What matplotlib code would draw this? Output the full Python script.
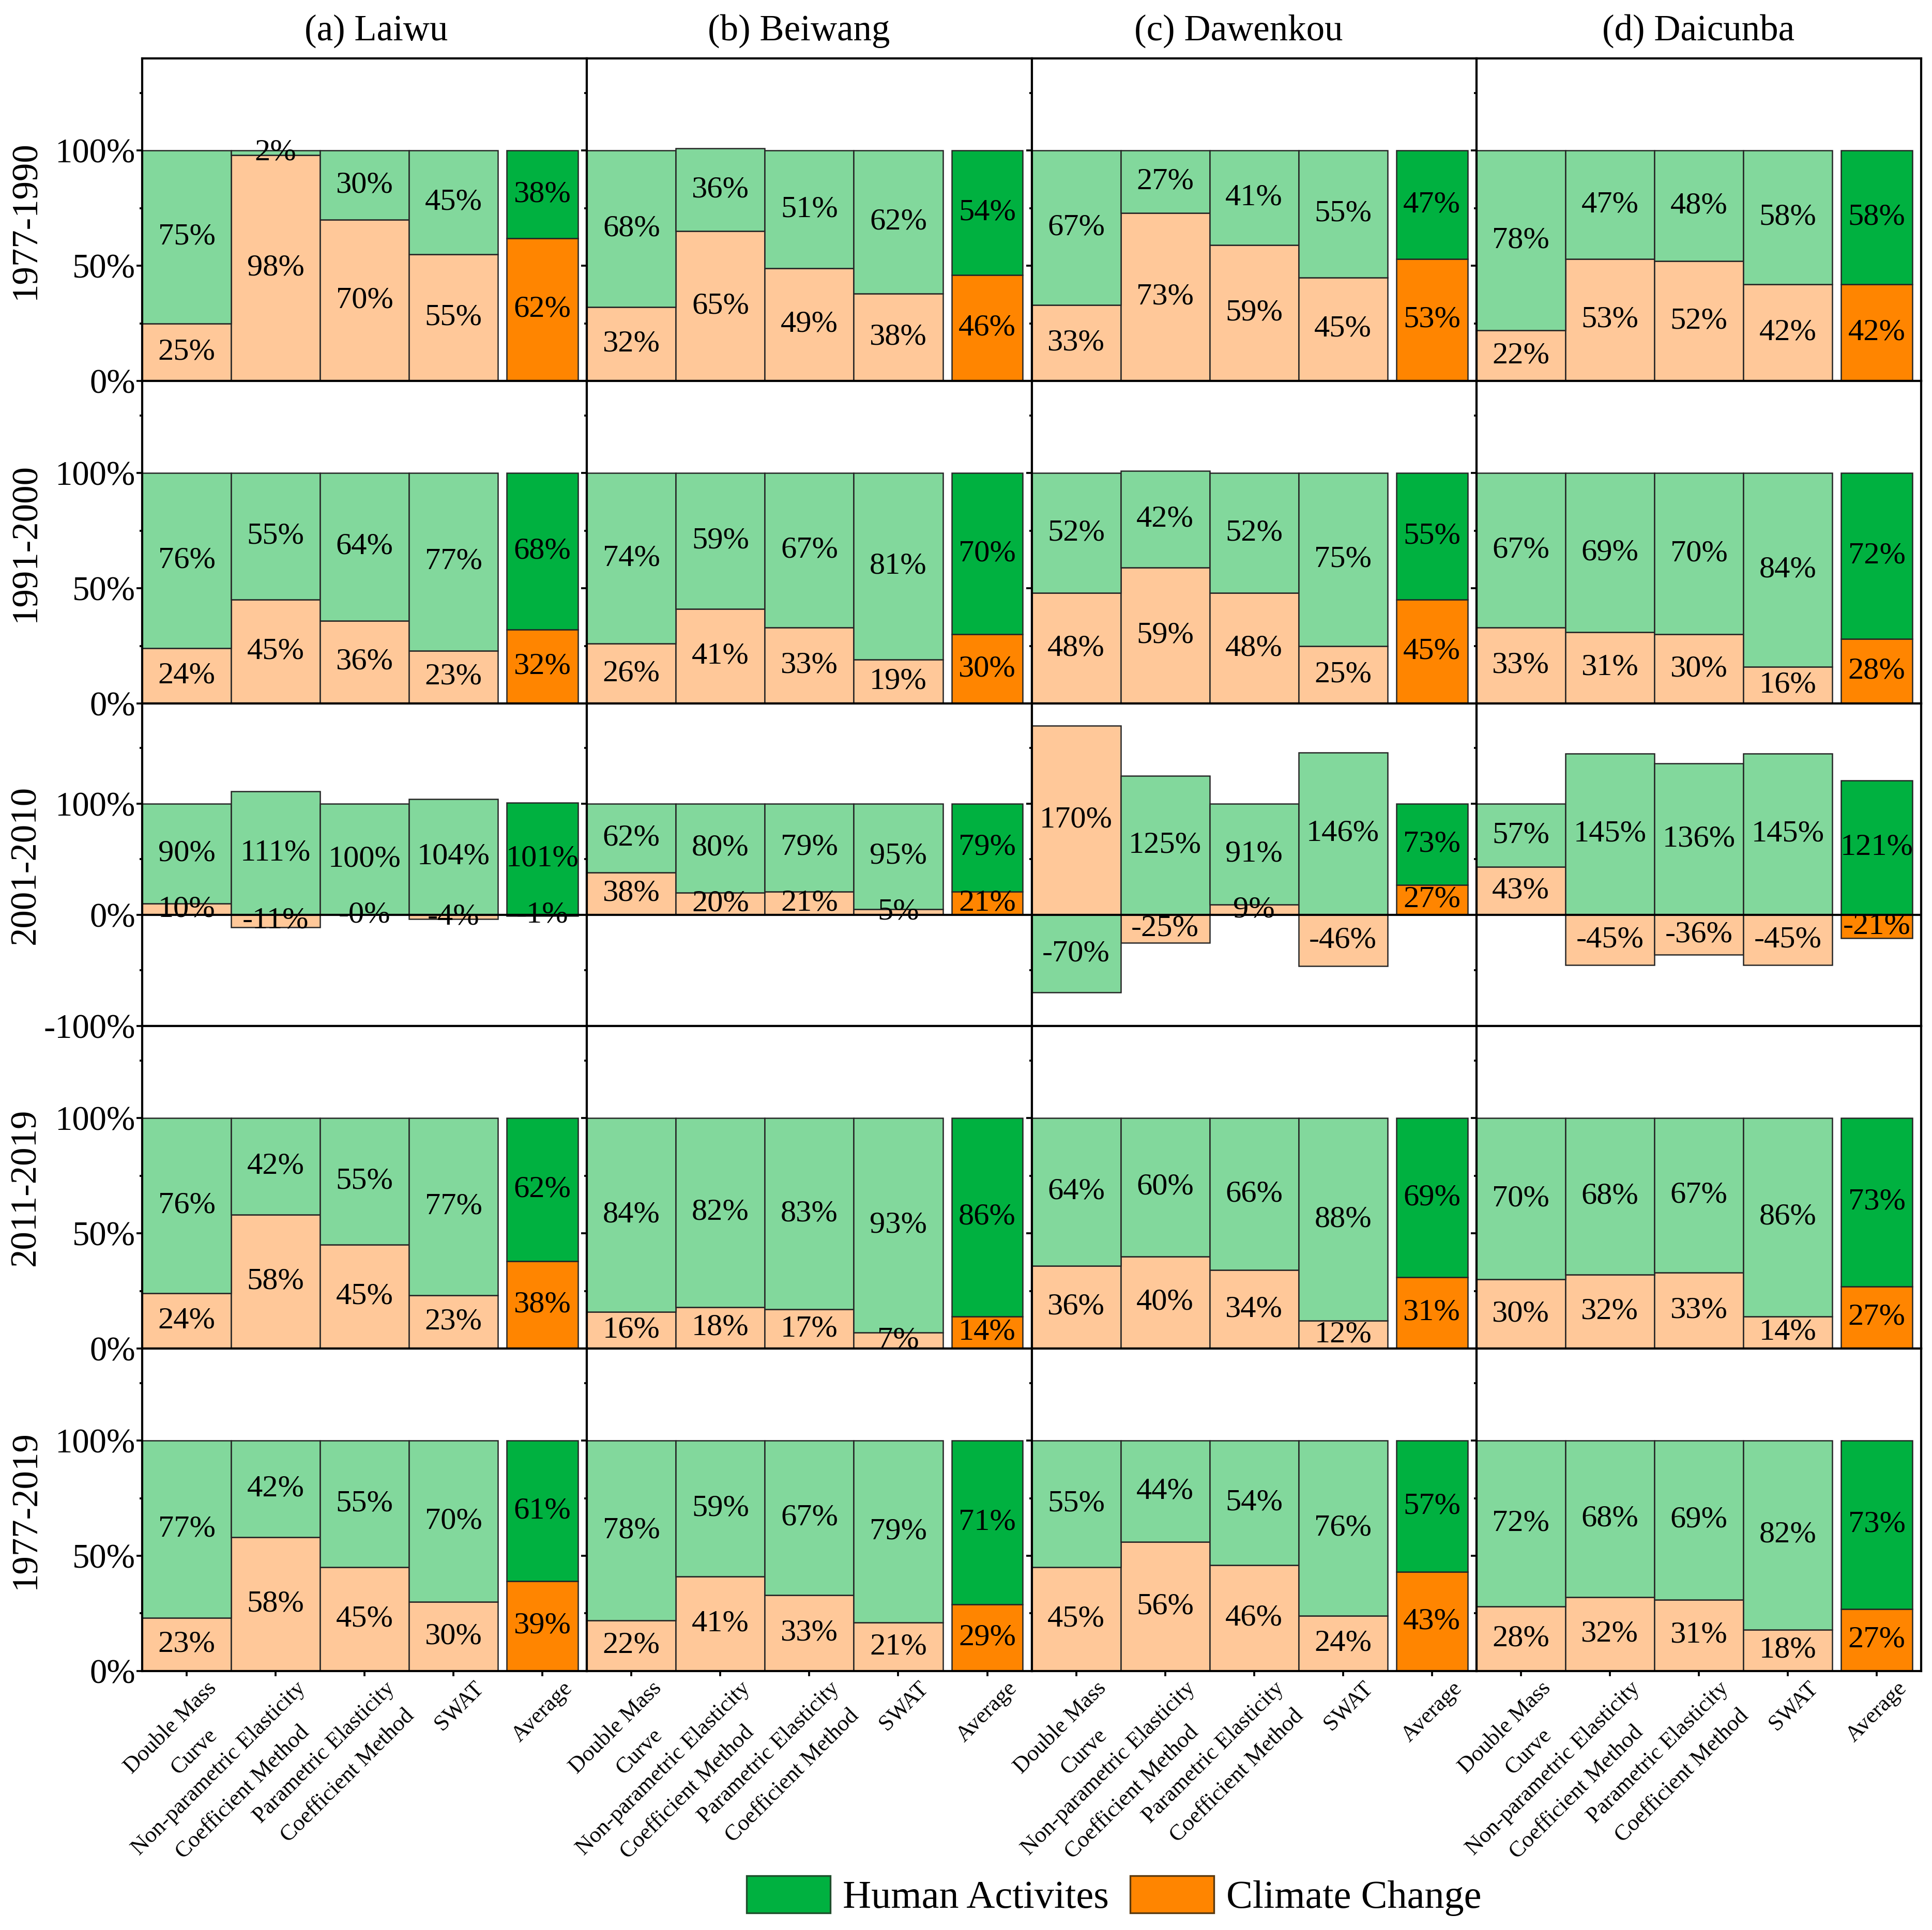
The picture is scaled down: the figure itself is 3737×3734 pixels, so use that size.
import matplotlib
matplotlib.use('Agg')
import matplotlib.pyplot as plt
import matplotlib.transforms as mtransforms
from matplotlib.patches import Patch
import numpy as np

plt.rcParams['font.family'] = ['Liberation Serif', 'DejaVu Serif']

stations = ['(a) Laiwu', '(b) Beiwang', '(c) Dawenkou', '(d) Daicunba']
periods = ['1977-1990', '1991-2000', '2001-2010', '2011-2019', '1977-2019']
methods = ['Double Mass\nCurve',
           'Non-parametric Elasticity\nCoefficient Method',
           'Parametric Elasticity\nCoefficient Method',
           'SWAT', 'Average']

# contributions (%) per station: [Double Mass, Non-param, Param, SWAT, Average]
climate_1977_1990 = [[25, 98, 70, 55, 62], [32, 65, 49, 38, 46],
                     [33, 73, 59, 45, 53], [22, 53, 52, 42, 42]]
human_1977_1990 = [[75, 2, 30, 45, 38], [68, 36, 51, 62, 54],
                   [67, 27, 41, 55, 47], [78, 47, 48, 58, 58]]

climate_1991_2000 = [[24, 45, 36, 23, 32], [26, 41, 33, 19, 30],
                     [48, 59, 48, 25, 45], [33, 31, 30, 16, 28]]
human_1991_2000 = [[76, 55, 64, 77, 68], [74, 59, 67, 81, 70],
                   [52, 42, 52, 75, 55], [67, 69, 70, 84, 72]]

climate_2001_2010 = [[10, -11, -0.3, -4, -1], [38, 20, 21, 5, 21],
                     [170, -25, 9, -46, 27], [43, -45, -36, -45, -21]]
human_2001_2010 = [[90, 111, 100, 104, 101], [62, 80, 79, 95, 79],
                   [-70, 125, 91, 146, 73], [57, 145, 136, 145, 121]]

climate_2011_2019 = [[24, 58, 45, 23, 38], [16, 18, 17, 7, 14],
                     [36, 40, 34, 12, 31], [30, 32, 33, 14, 27]]
human_2011_2019 = [[76, 42, 55, 77, 62], [84, 82, 83, 93, 86],
                   [64, 60, 66, 88, 69], [70, 68, 67, 86, 73]]

climate_1977_2019 = [[23, 58, 45, 30, 39], [22, 41, 33, 21, 29],
                     [45, 56, 46, 24, 43], [28, 32, 31, 18, 27]]
human_1977_2019 = [[77, 42, 55, 70, 61], [78, 59, 67, 79, 71],
                   [55, 44, 54, 76, 57], [72, 68, 69, 82, 73]]

climate_all = [climate_1977_1990, climate_1991_2000, climate_2001_2010,
               climate_2011_2019, climate_1977_2019]
human_all = [human_1977_1990, human_1991_2000, human_2001_2010,
             human_2011_2019, human_1977_2019]

LG = '#82D89C'   # light green
DG = '#00B140'   # dark green
LO = '#FFC899'   # light orange
DO = '#FF8500'   # dark orange
EDGE = '#262626'

xc = np.array([0.5, 1.5, 2.5, 3.5, 4.5])
widths = [1, 1, 1, 1, 0.8]
title_x = [0.526, 0.476, 0.465, 0.499]

fig = plt.figure(figsize=(3737 / 300, 3734 / 300), dpi=300)
gs = fig.add_gridspec(5, 4, left=0.0736, right=0.9944, top=0.9697,
                      bottom=0.1342, hspace=0, wspace=0)

for r in range(5):
    for c in range(4):
        ax = fig.add_subplot(gs[r, c])
        clim = np.array(climate_all[r][c], dtype=float)
        hum = np.array(human_all[r][c], dtype=float)
        hb = np.where(hum >= 0, np.maximum(clim, 0), np.minimum(clim, 0))
        ccol = [LO] * 4 + [DO]
        hcol = [LG] * 4 + [DG]
        ax.bar(xc, clim, width=widths, color=ccol, edgecolor=EDGE,
               linewidth=0.6, zorder=2)
        ax.bar(xc, hum, width=widths, bottom=hb, color=hcol, edgecolor=EDGE,
               linewidth=0.6, zorder=2)
        for i in range(5):
            ax.text(xc[i], clim[i] / 2, f"{clim[i]:.0f}%", ha='center',
                    va='center', fontsize=14.5, zorder=4)
            ax.text(xc[i], hb[i] + hum[i] / 2, f"{hum[i]:.0f}%", ha='center',
                    va='center', fontsize=14.5, zorder=4)
        ax.set_xlim(0, 5)
        if r == 2:
            ax.set_ylim(-100, 190)
            major = [-100, 0, 100]
            minor = [-50, 50, 150]
            ax.axhline(0, color='black', lw=1.0, zorder=3)
        else:
            ax.set_ylim(0, 140)
            major = [0, 50, 100]
            minor = [25, 75, 125]
        ax.set_yticks(major)
        ax.set_yticks(minor, minor=True)
        if c == 0:
            ax.set_yticklabels([f"{v}%" for v in major], fontsize=16)
        else:
            ax.set_yticklabels([])
        ax.tick_params(axis='y', which='major', direction='out', length=2.6,
                       width=0.9, pad=0.6)
        ax.tick_params(axis='y', which='minor', direction='out', length=1.3,
                       width=0.9)
        for sp in ax.spines.values():
            sp.set_linewidth(1.0)
            sp.set_color('black')
        if r == 4:
            ax.set_xticks(xc)
            ax.set_xticklabels([])
            ax.tick_params(axis='x', direction='out', length=2.4, width=0.9)
            trans = mtransforms.blended_transform_factory(ax.transData, ax.transAxes) + \
                mtransforms.ScaledTranslation(9.0 / 72, -3.2 / 72, fig.dpi_scale_trans)
            for i, m in enumerate(methods):
                ax.text(xc[i], 0, m, transform=trans, rotation=45,
                        rotation_mode='anchor', ha='right', va='top',
                        multialignment='center', linespacing=1.8,
                        fontsize=10.6)
        else:
            ax.set_xticks([])
        if r == 0:
            ax.set_title(stations[c], fontsize=17, pad=8.6, x=title_x[c])
        if c == 0:
            pos = ax.get_position()
            fig.text(0.0134, (pos.y0 + pos.y1) / 2, periods[r], rotation=90,
                     ha='center', va='center', fontsize=17)

handles = [Patch(facecolor=DG, edgecolor='#1f4f2c', linewidth=0.8,
                 label='Human Activites'),
           Patch(facecolor=DO, edgecolor='#5a3a10', linewidth=0.8,
                 label='Climate Change')]
fig.legend(handles=handles, loc='center', bbox_to_anchor=(0.5766, 0.0177),
           ncol=2, frameon=False, fontsize=18.3, handlelength=2.13,
           handleheight=1.09, handletextpad=0.32, columnspacing=0.53)

fig.savefig('out.png', dpi=300)
